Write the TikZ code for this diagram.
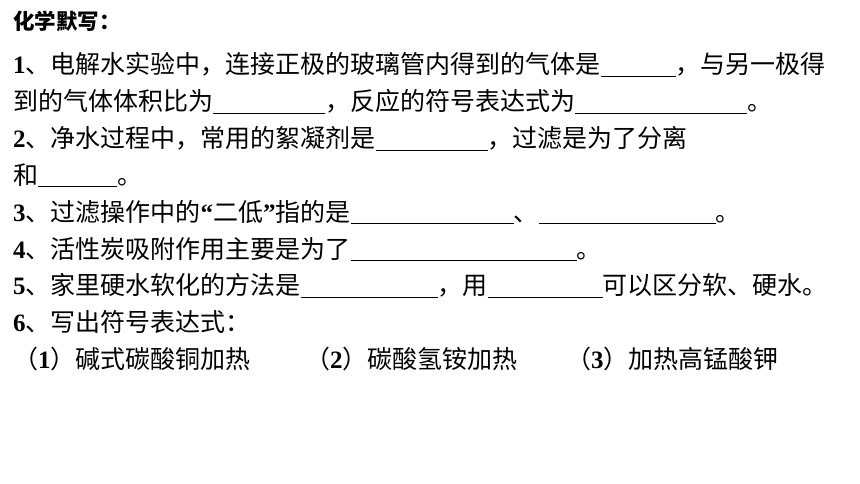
\documentclass[tikz,border=0pt]{standalone}
\usepackage{fontspec}
\setmainfont{Liberation Serif}
\newfontfamily\cjk{Noto Sans CJK SC}
\usepackage{tikz}
\tikzstyle{textline}=[anchor=base west,inner sep=0pt,
                      font=\cjk\fontsize{25}{25}\selectfont]
\tikzstyle{titleline}=[anchor=base west,inner sep=0pt,
                       font=\cjk\bfseries\fontsize{21.5}{21.5}\selectfont]
\newcommand{\idx}[1]{{\rmfamily\bfseries #1}}
\newcommand{\fillin}[1]{\rule[-3pt]{#1pt}{0.9pt}}

\begin{document}
\begin{tikzpicture}[x=1pt,y=-1pt]
    \useasboundingbox (0,0) rectangle (860,484);
    \newcommand{\lh}{36.8}
    \node (title) at (13, 29.5) [titleline]{化学默写：};
    \node (q1a) at (13, 74) [textline]{\idx{1}、电解水实验中，连接正极的玻璃管内得到的气体是\fillin{75}，与另一极得};
    \node (q1b) at (13, 74+\lh) [textline]{到的气体体积比为\fillin{112}，反应的符号表达式为\fillin{172}。};
    \node (q2a) at (13, 74+2*\lh) [textline]{\idx{2}、净水过程中，常用的絮凝剂是\fillin{112}，过滤是为了分离};
    \node (q2b) at (13, 74+3*\lh) [textline]{和\fillin{79}。};
    \node (q3) at (13, 74+4*\lh) [textline]{\idx{3}、过滤操作中的\idx{“}二低\idx{”}指的是\fillin{163}、\fillin{177}。};
    \node (q4) at (13, 74+5*\lh) [textline]{\idx{4}、活性炭吸附作用主要是为了\fillin{226}。};
    \node (q5) at (13, 74+6*\lh) [textline]{\idx{5}、家里硬水软化的方法是\fillin{137}，用\fillin{115}可以区分软、硬水。};
    \node (q6) at (13, 74+7*\lh) [textline]{\idx{6}、写出符号表达式：};
    \node (s1) at (13, 74+8*\lh) [textline]{（\idx{1}）碱式碳酸铜加热};
    \node (s2) at (305, 74+8*\lh) [textline]{（\idx{2}）碳酸氢铵加热};
    \node (s3) at (566, 74+8*\lh) [textline]{（\idx{3}）加热高锰酸钾};
  \end{tikzpicture}
\end{document}
